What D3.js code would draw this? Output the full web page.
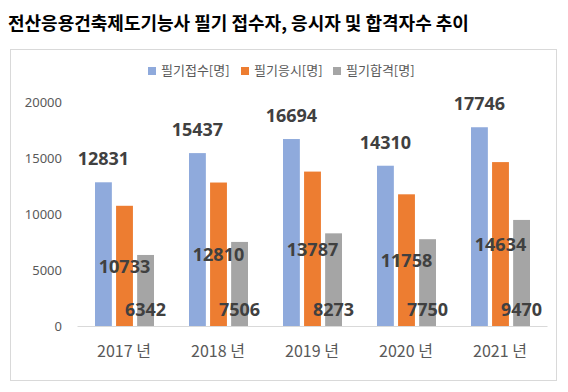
<!DOCTYPE html>
<html>
<head>
<meta charset="utf-8">
<script src="https://cdn.jsdelivr.net/npm/d3@7"></script>
<style>
  body { margin: 0; background: #fff; }
  svg { display: block; }
</style>
</head>
<body>
<svg id="svg" width="568" height="392"></svg>
<script>
var years = ['2017 년', '2018 년', '2019 년', '2020 년', '2021 년'];
var seriesNames = ['필기접수[명]', '필기응시[명]', '필기합격[명]'];
var applied = [12831, 15437, 16694, 14310, 17746];
var tested = [10733, 12810, 13787, 11758, 14634];
var passed = [6342, 7506, 8273, 7750, 9470];
var yTicks = [0, 5000, 10000, 15000, 20000];
var colors = ['#8faadc', '#ed7d31', '#a5a5a5'];

var font = '"Noto Sans", "Noto Sans CJK KR", sans-serif';
var series = [applied, tested, passed];

var svg = d3.select('svg');

// title
svg.append('text')
    .text('전산응용건축제도기능사 필기 접수자, 응시자 및 합격자수 추이')
    .attr('x', 8)
    .attr('y', 30)
    .attr('font-family', '"Noto Sans CJK KR", sans-serif')
    .attr('font-weight', 'bold')
    .attr('font-size', 18)
    .attr('fill', '#000');

// chart box
svg.append('rect')
    .attr('x', 10.5).attr('y', 49.5)
    .attr('width', 546).attr('height', 331)
    .attr('fill', 'none')
    .attr('stroke', '#d9d9d9');

var x0 = d3.scaleBand().domain(years).range([77, 547]);
var x1 = d3.scaleBand().domain([0, 1, 2]).range([-29, 30]).paddingInner(0.2);
var y = d3.scaleLinear().domain([0, 20000]).range([326, 102]);

// y axis labels
var yAxis = svg.append('g')
    .attr('transform', 'translate(62,0)')
    .call(d3.axisLeft(y).tickValues(yTicks).tickFormat(d3.format('d')).tickSize(0).tickPadding(0));
yAxis.select('.domain').remove();
yAxis.selectAll('text')
    .attr('font-family', font)
    .attr('font-size', 13)
    .attr('fill', '#595959');

// x axis
var xAxis = svg.append('g')
    .attr('transform', 'translate(0,326)')
    .call(d3.axisBottom(x0).tickSize(0).tickPadding(20));
xAxis.select('.domain').attr('stroke', '#d9d9d9');
xAxis.selectAll('text')
    .attr('font-family', '"Noto Sans CJK KR", sans-serif')
    .attr('font-size', 16)
    .attr('fill', '#595959');

// bars
series.forEach(function(vals, si) {
    svg.append('g').selectAll('rect')
        .data(vals)
        .enter()
        .append('rect')
        .attr('x', function(d, i){ return x0(years[i]) + x0.bandwidth()/2 + x1(si); })
        .attr('y', function(d){ return y(d); })
        .attr('width', x1.bandwidth())
        .attr('height', function(d){ return y(0) - y(d); })
        .attr('fill', colors[si]);
});

function cx(i, si) { return x0(years[i]) + x0.bandwidth()/2 + x1(si) + x1.bandwidth()/2; }

var labelStyle = function(sel) {
    sel.attr('font-family', font)
        .attr('font-weight', 'bold')
        .attr('font-size', 18)
        .attr('fill', '#404040')
        .attr('text-anchor', 'middle');
};

// labels: outside end
svg.append('g').selectAll('text')
    .data(applied).enter().append('text')
    .text(function(d){ return d; })
    .attr('x', function(d, i){ return cx(i, 0); })
    .attr('y', function(d){ return y(d) - 17; })
    .call(labelStyle);

// labels: center
svg.append('g').selectAll('text')
    .data(tested).enter().append('text')
    .text(function(d){ return d; })
    .attr('x', function(d, i){ return cx(i, 1); })
    .attr('y', function(d){ return (y(d) + y(0)) / 2 + 7; })
    .call(labelStyle);

// labels: inside base
svg.append('g').selectAll('text')
    .data(passed).enter().append('text')
    .text(function(d){ return d; })
    .attr('x', function(d, i){ return cx(i, 2); })
    .attr('y', y(0) - 10)
    .call(labelStyle);

// legend
var legendX = [148, 241, 333];
var legend = svg.append('g');
seriesNames.forEach(function(name, i) {
    legend.append('rect')
        .attr('x', legendX[i]).attr('y', 67)
        .attr('width', 8).attr('height', 8)
        .attr('fill', colors[i]);
    legend.append('text')
        .text(name)
        .attr('x', legendX[i] + 13)
        .attr('y', 75)
        .attr('font-family', '"Noto Sans CJK KR", sans-serif')
        .attr('font-size', 13)
        .attr('fill', '#595959');
});
</script>
</body>
</html>
